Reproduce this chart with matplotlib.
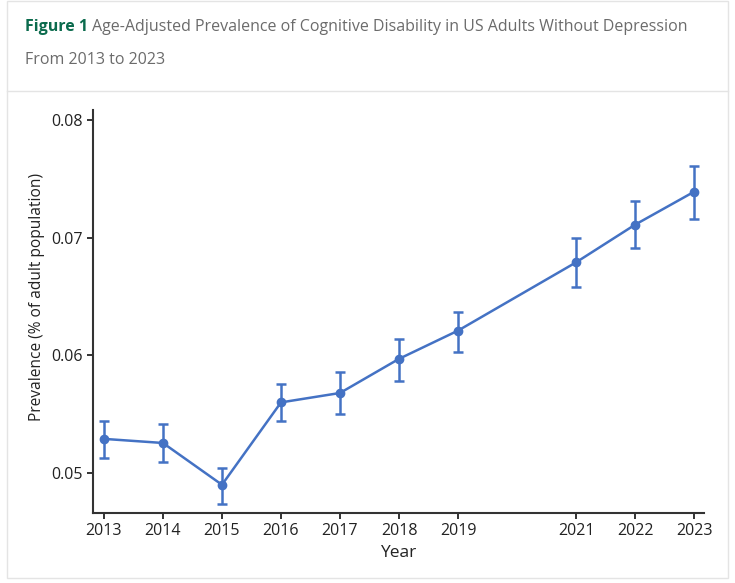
import numpy as np
import matplotlib
matplotlib.use("Agg")
import matplotlib.pyplot as plt
from matplotlib.patches import Rectangle
from matplotlib.lines import Line2D

plt.rcParams.update({
    "font.family": ["Open Sans", "DejaVu Sans"],
    "font.size": 10,
    "axes.linewidth": 1.5,
    "xtick.major.width": 1.4, "ytick.major.width": 1.4,
    "xtick.major.size": 4.5, "ytick.major.size": 4.5,
})

years = [2013, 2014, 2015, 2016, 2017, 2018, 2019, 2021, 2022, 2023]
prev = [0.0529, 0.05255, 0.0490, 0.0560, 0.0568, 0.0597, 0.0621, 0.0679, 0.0711, 0.0739]
upper = [0.0544, 0.0542, 0.0504, 0.0576, 0.0586, 0.0614, 0.0637, 0.0700, 0.0731, 0.0761]
lower = [0.0513, 0.0509, 0.0474, 0.0544, 0.0550, 0.0578, 0.0603, 0.0658, 0.0691, 0.0716]
yticks = [0.05, 0.06, 0.07, 0.08]

BLUE = "#4472c4"
W, H = 735, 583

fig = plt.figure(figsize=(W/100, H/100), dpi=100, facecolor="white")

# card outline + header separator
fig.patches.append(Rectangle((7/W, 1-578/H), 721/W, 577/H, transform=fig.transFigure,
                             facecolor="none", edgecolor="#e4e4e4", lw=1.0, zorder=0))
fig.lines.append(Line2D([7/W, 728/W], [1-91/H, 1-91/H], transform=fig.transFigure,
                        color="#e4e4e4", lw=1.0))

# title
t1 = fig.text(25/W, 1-27/H, "Figure 1", color="#0b6b4d", fontweight="bold",
              fontsize=11.5, va="center", ha="left")
fig.canvas.draw()
bb = t1.get_window_extent()
fig.text((bb.x1 + 4)/W, 1-27/H, "Age-Adjusted Prevalence of Cognitive Disability in US Adults Without Depression",
         color="#6b6b6b", fontsize=11.5, va="center", ha="left")
fig.text(25/W, 1-60/H, "From 2013 to 2023", color="#6b6b6b", fontsize=11.5,
         va="center", ha="left")

ax = fig.add_axes([93/W, 1-513/H, (704-93)/W, (513-110)/H])
ax.set_zorder(2)
prev_a = np.array(prev)
yerr = [prev_a - np.array(lower), np.array(upper) - prev_a]
ax.errorbar(years, prev, yerr=yerr, color=BLUE, lw=1.8, marker="o", ms=6,
            elinewidth=1.8, capsize=3.5, capthick=1.8)

ax.set_xlim(2012.814, 2023.169)
ax.set_ylim(0.0466, 0.08085)
ax.set_xticks(years)
ax.set_xticklabels([str(y) for y in years])
ax.set_yticks(yticks)
ax.set_yticklabels([f"{v:.2f}" for v in yticks])
for s in ["top", "right"]:
    ax.spines[s].set_visible(False)
for s in ["left", "bottom"]:
    ax.spines[s].set_color("#333333")
ax.tick_params(colors="#333333", labelcolor="#222222", labelsize=11.5, pad=3)
ax.set_xlabel("Year", fontsize=12.5, color="#222222")
ax.set_ylabel("Prevalence (% of adult population)", fontsize=11.2, color="#222222")
# label positions in axes fraction (from pixel positions in the reference)
ax.xaxis.set_label_coords((398-93)/611, -(553-513)/403)
ax.yaxis.set_label_coords(-(93-37)/611, (513-297)/403)
ax.xaxis.label.set_va("center")
ax.yaxis.label.set_va("center")

fig.savefig("out.png", dpi=100)
